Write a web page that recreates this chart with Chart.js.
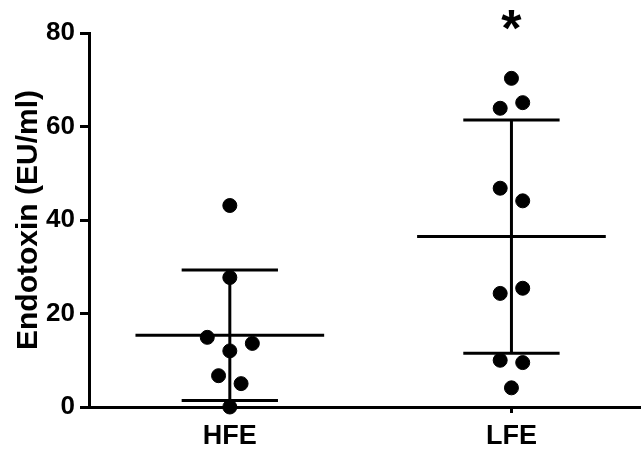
<!DOCTYPE html>
<html>
<head>
<meta charset="utf-8">
<script src="https://cdn.jsdelivr.net/npm/chart.js@4/dist/chart.umd.min.js"></script>
<style>
html,body{margin:0;padding:0;background:#fff;}
#wrap{width:641px;height:450px;}
</style>
</head>
<body>
<div id="wrap"><canvas id="c" width="641" height="450"></canvas></div>
<script>
// ---- data ----
const categories = ['HFE', 'LFE'];
const hfeValues = [43.1, 27.7, 14.9, 13.6, 12.0, 6.7, 5.0, 0.0];
const hfeJitter = [0, 0, -0.08, 0.08, 0, -0.04, 0.04, 0];
const lfeValues = [70.3, 63.9, 65.1, 46.8, 44.1, 24.3, 25.4, 10.0, 9.5, 4.1];
const lfeJitter = [0, -0.04, 0.04, -0.04, 0.04, -0.04, 0.04, -0.04, 0.04, 0];
const groupMeans = [15.35, 36.45];
const groupSDs = [13.95, 24.95];
const significance = ['', '*'];
const yTicks = [0, 20, 40, 60, 80];
const yTitle = 'Endotoxin (EU/ml)';

// ---- build datasets ----
const FONT = '"Liberation Sans", Arial, Helvetica, sans-serif';
const MEAN_HALF = 0.335, CAP_HALF = 0.171;

function pointsFor(values, jitter, pos) {
  return values.map((v, i) => ({ x: pos + jitter[i], y: v }));
}
function seg(x1, y1, x2, y2) {
  return {
    type: 'scatter', showLine: true, data: [{x:x1,y:y1},{x:x2,y:y2}],
    borderColor: '#000', borderWidth: 3, pointRadius: 0, pointHoverRadius: 0,
    borderCapStyle: 'butt', clip: false, order: 2
  };
}
const datasets = [];
categories.forEach((c, i) => {
  const x = i + 1, m = groupMeans[i], s = groupSDs[i];
  datasets.push(seg(x - MEAN_HALF, m, x + MEAN_HALF, m));
  datasets.push(seg(x - CAP_HALF, m + s, x + CAP_HALF, m + s));
  datasets.push(seg(x - CAP_HALF, m - s, x + CAP_HALF, m - s));
  datasets.push(seg(x, m - s, x, m + s));
});
[[hfeValues, hfeJitter], [lfeValues, lfeJitter]].forEach(([v, j], i) => {
  datasets.push({
    type: 'scatter', label: categories[i], data: pointsFor(v, j, i + 1),
    backgroundColor: '#000', borderColor: '#000', borderWidth: 1,
    pointRadius: 7, clip: false, order: 1
  });
});

const sigPlugin = {
  id: 'sig',
  afterDraw(chart) {
    const ctx = chart.ctx, xs = chart.scales.x;
    ctx.save();
    ctx.fillStyle = '#000';
    ctx.font = 'bold 52px ' + FONT;
    ctx.textAlign = 'center';
    ctx.textBaseline = 'alphabetic';
    significance.forEach((t, i) => {
      if (!t) return;
      ctx.fillText(t, xs.getPixelForValue(i + 1), 46);
    });
    ctx.restore();
  }
};

new Chart(document.getElementById('c'), {
  type: 'scatter',
  data: { datasets },
  plugins: [sigPlugin],
  options: {
    responsive: false, animation: false, devicePixelRatio: 1,
    layout: { autoPadding: false, padding: { top: 33, right: 0, left: 11, bottom: 0 } },
    plugins: { legend: { display: false }, tooltip: { enabled: false } },
    scales: {
      x: {
        type: 'linear', min: 0.5, max: 2.46,
        border: { color: '#000', width: 3 },
        grid: { drawOnChartArea: false, drawTicks: true, tickLength: 6, tickWidth: 3, tickColor: '#000' },
        afterBuildTicks: (s) => { s.ticks = categories.map((c, i) => ({ value: i + 1 })); },
        ticks: {
          color: '#000', padding: 7, maxRotation: 0,
          font: { family: FONT, size: 27, weight: 'bold' },
          callback: (v) => categories[Math.round(v) - 1]
        },
        afterFit: (s) => { s.height = 43; s.paddingLeft = 0; s.paddingRight = 0; }
      },
      y: {
        min: 0, max: 80,
        border: { color: '#000', width: 3 },
        grid: { drawOnChartArea: false, drawTicks: true, tickLength: 9, tickWidth: 3, tickColor: '#000' },
        afterBuildTicks: (s) => { s.ticks = yTicks.map(v => ({ value: v })); },
        ticks: {
          color: '#000', padding: 5,
          font: { family: FONT, size: 26, weight: 'bold' }
        },
        title: {
          display: true, text: yTitle, color: '#000', padding: 0,
          font: { family: FONT, size: 30, weight: 'bold' }
        },
        afterFit: (s) => { s.width = 78; s.paddingTop = 0; s.paddingBottom = 0; }
      }
    }
  }
});
</script>
</body>
</html>
